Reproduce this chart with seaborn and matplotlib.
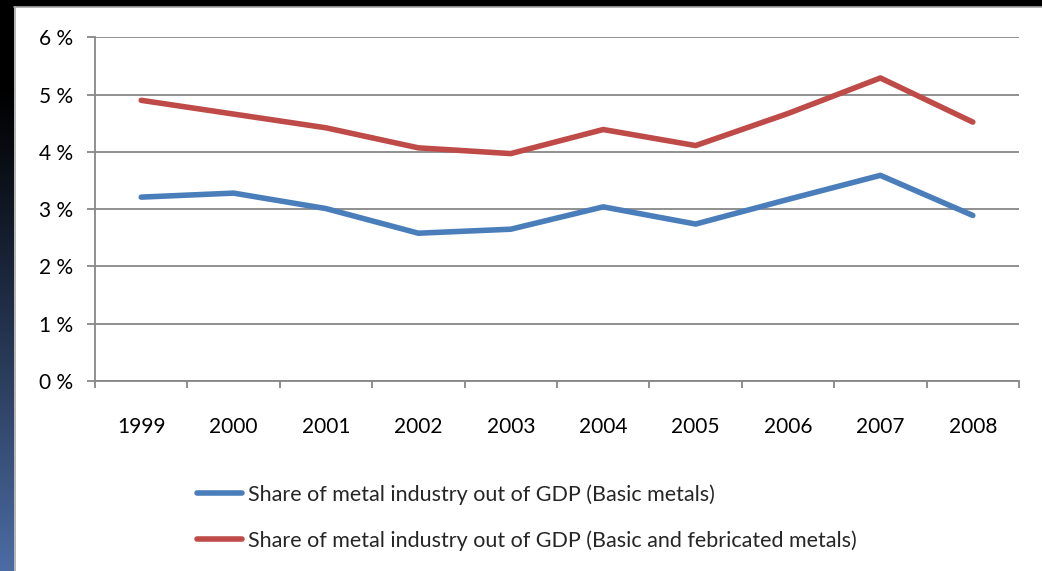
import numpy as np
import pandas as pd
import matplotlib
matplotlib.use("Agg")
import matplotlib.pyplot as plt
from matplotlib.ticker import FixedLocator, FuncFormatter
import seaborn as sns

years = [1999, 2000, 2001, 2002, 2003, 2004, 2005, 2006, 2007, 2008]
basic_metals = [3.21, 3.28, 3.01, 2.58, 2.65, 3.04, 2.74, 3.17, 3.59, 2.89]
basic_and_fabricated = [4.90, 4.66, 4.42, 4.07, 3.97, 4.39, 4.11, 4.67, 5.29, 4.52]
series_names = [
    "Share of metal industry out of GDP (Basic metals)",
    "Share of metal industry out of GDP (Basic and febricated metals)",
]
series_colors = ["#4a7ebb", "#be4b48"]
y_ticks = [0, 1, 2, 3, 4, 5, 6]

df = pd.DataFrame({
    "year": years * 2,
    "share": basic_metals + basic_and_fabricated,
    "series": [series_names[0]] * len(years) + [series_names[1]] * len(years),
})

sns.set_theme(style="white")
plt.rcParams["font.family"] = ["Lato", "DejaVu Sans"]

W, H = 1042, 571
fig = plt.figure(figsize=(W / 100, H / 100), dpi=100)
fig.patch.set_facecolor("white")

# slide frame: dark band on top, dark-to-blue gradient strip on the left
bg = fig.add_axes([0, 0, 1, 1], zorder=-10)
bg.set_xlim(0, W)
bg.set_ylim(H, 0)
bg.axis("off")
t = np.linspace(0, 1, 256)[:, None]
top_c = np.array([0.0, 0.0, 0.0])
bot_c = np.array([0x4c, 0x6c, 0xa4]) / 255
grad = (top_c + (bot_c - top_c) * np.clip((t - 0.15) / 0.85, 0, 1) ** 1.1)[:, None, :].repeat(2, axis=1)
bg.imshow(grad.reshape(256, 2, 3), extent=[0, 14, H, 0], aspect="auto", interpolation="bilinear")
bg.add_patch(plt.Rectangle((0, 0), W, 6.5, color="black", lw=0))
bg.plot([14.5, 14.5], [7, H], color="#a8a8a8", lw=1.2)
bg.plot([14, W], [7.2, 7.2], color="#a8a8a8", lw=1.2)

ax = fig.add_axes([95 / W, 1 - 381 / H, (1019 - 95) / W, (381 - 37.3) / H])
ax.set_facecolor("none")

sns.lineplot(
    data=df, x="year", y="share", hue="series", palette=series_colors,
    hue_order=series_names, linewidth=4.0, ax=ax, legend=True,
    solid_capstyle="round", solid_joinstyle="round", zorder=3,
)

ax.set_xlim(years[0] - 0.5, years[-1] + 0.5)
ax.set_ylim(0, 6)
ax.set_xlabel("")
ax.set_ylabel("")

grid_c = "#878787"
ax.yaxis.set_major_locator(FixedLocator(y_ticks))
ax.yaxis.set_major_formatter(FuncFormatter(lambda v, p: f"{int(v)} %"))
ax.grid(axis="y", color=grid_c, linewidth=1.3, zorder=1)
ax.grid(axis="x", visible=False)

ax.xaxis.set_major_locator(FixedLocator([y - 0.5 for y in years] + [years[-1] + 0.5]))
ax.xaxis.set_major_formatter(FuncFormatter(lambda v, p: ""))
ax.xaxis.set_minor_locator(FixedLocator(years))
ax.xaxis.set_minor_formatter(FuncFormatter(lambda v, p: f"{int(round(v))}"))

fs = 15
ax.tick_params(axis="x", which="major", length=5, width=1.3, color=grid_c, direction="out", bottom=True)
ax.tick_params(axis="x", which="minor", length=0, pad=26, labelsize=fs, labelcolor="black", bottom=True)
ax.tick_params(axis="y", which="major", length=6, width=1.3, color=grid_c, direction="out",
               pad=10, labelsize=fs, labelcolor="black", left=True)

for side in ["top", "right"]:
    ax.spines[side].set_visible(False)
for side in ["left", "bottom"]:
    ax.spines[side].set_color(grid_c)
    ax.spines[side].set_linewidth(1.3)

handles, labels = ax.get_legend_handles_labels()
ax.legend_.remove()
fig.legend(
    handles, labels, loc="upper left", bbox_to_anchor=(197 / W, 1 - 484 / H),
    bbox_transform=fig.transFigure, frameon=False, borderpad=0, borderaxespad=0,
    handlelength=2.1, handletextpad=0.25, labelspacing=1.2, fontsize=15.5,
)

fig.savefig("out.png", dpi=100)
